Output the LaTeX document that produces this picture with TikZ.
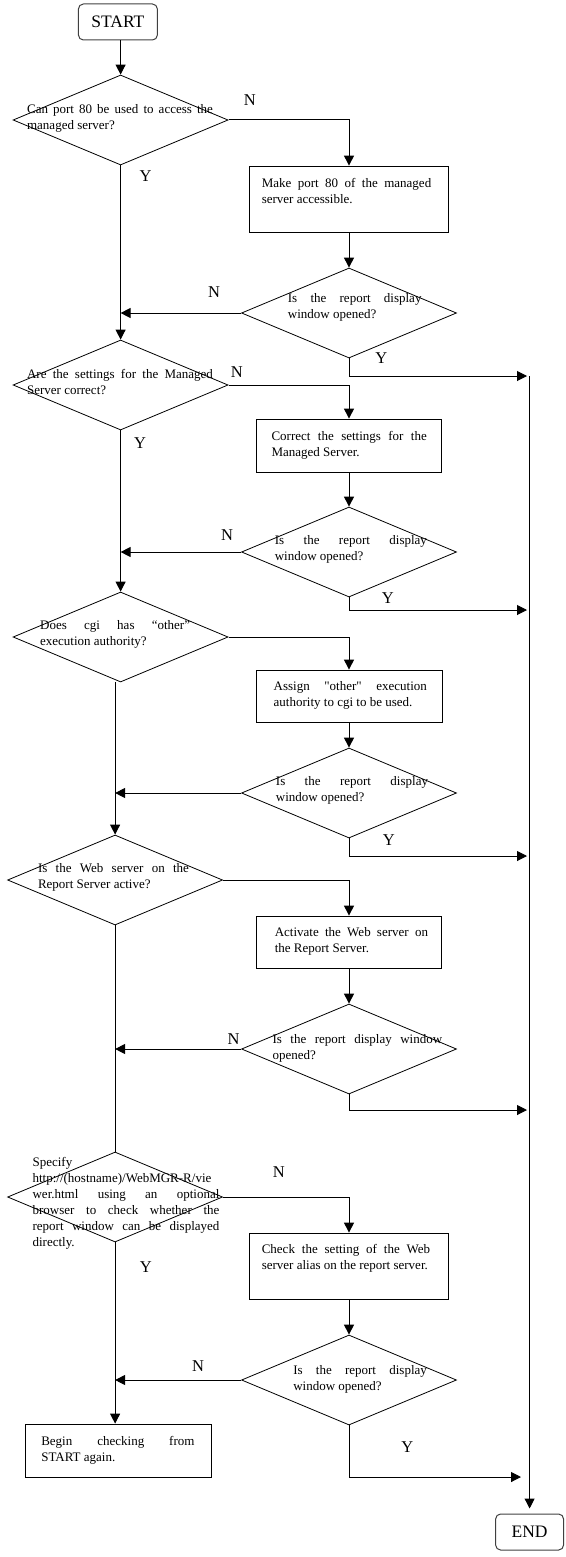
\documentclass[tikz,border=0pt]{standalone}
\usepackage{fontspec}
\setmainfont{Liberation Serif}
\usepackage{tikz}
\usetikzlibrary{shapes.geometric}
\usetikzlibrary{arrows.meta}
\tikzset{
    boxn/.style = {rectangle, draw=black, line width=0.8pt, inner sep=0pt},
    diam/.style = {diamond, draw=black, line width=0.8pt, inner sep=0pt, minimum width=215pt, minimum height=90pt},
    termn/.style = {rectangle, rounded corners=5pt, draw=black!75, line width=1pt, inner sep=0pt, font=\fontsize{17.5}{20}\selectfont},
    txt/.style = {inner sep=0pt, align=justify, font=\fontsize{13}{16}\selectfont},
    lab/.style = {inner sep=0pt, font=\fontsize{16.5}{18}\selectfont},
}

\begin{document}
\begin{tikzpicture}[x=1pt, y=-1pt]
\tikzset{
    edgea/.style = {-{Triangle[length=10pt,width=10pt]}, line width=1pt},
    edgen/.style = {-, line width=1pt},
}
\useasboundingbox (0,0) rectangle (565,1557);
\node[termn, minimum width=79pt, minimum height=36pt] at (117.9,22) (start) {START};
\node[termn, minimum width=68pt, minimum height=36pt] at (529.6,1532) (endn) {END};
%
\node[diam] at (120.6,120) (d1) {};
\node[diam] at (349,313) (d2) {};
\node[diam] at (120.6,385) (d3) {};
\node[diam] at (349,552) (d4) {};
\node[diam] at (120.6,637) (d5) {};
\node[diam] at (349,793) (d7) {};
\node[diam] at (115.1,880) (d6) {};
\node[diam] at (349,1049) (d8) {};
\node[diam] at (115.1,1197) (d9) {};
\node[diam] at (349,1380) (d10) {};
%
\node[txt, text width=185.8pt] at (120,118) (t1) {Can port 80 be used to access the\linebreak managed server?};
\node[txt, text width=133.6pt] at (354.7,307) (t2) {Is the report display\linebreak window opened?};
\node[txt, text width=185.8pt] at (120,382) (t3) {Are the settings for the Managed\linebreak Server correct?};
\node[txt, text width=152.1pt] at (350.9,549) (t4) {Is the report display\linebreak window opened?};
\node[txt, text width=149.9pt] at (115.1,634) (t5) {Does cgi has “other”\linebreak execution authority?};
\node[txt, text width=152.1pt] at (352,790) (t7) {Is the report display\linebreak window opened?};
\node[txt, text width=151pt] at (113.5,877) (t6) {Is the Web server on the\linebreak Report Server active?};
\node[txt, text width=169.5pt] at (357.4,1048) (t8) {Is the report display window\linebreak opened?};
\node[txt, text width=186.8pt] at (126,1203) (t9) {Specify\newline http://(hostname)/WebMGR-R/vie\linebreak wer.html using an optional\linebreak browser to check whether the\linebreak report window can be displayed\linebreak directly.};
\node[txt, text width=133.6pt] at (360.1,1379) (t10) {Is the report display\linebreak window opened?};
%
\node[boxn, minimum width=198.8pt, minimum height=66pt] at (349,199) (b1) {};
\node[boxn, minimum width=184.7pt, minimum height=53pt] at (349,445.5) (b2) {};
\node[boxn, minimum width=185.8pt, minimum height=52pt] at (349,696) (b3) {};
\node[boxn, minimum width=184.7pt, minimum height=52pt] at (349,942) (b4) {};
\node[boxn, minimum width=198.8pt, minimum height=66pt] at (349,1266) (b5) {};
\node[boxn, minimum width=186.8pt, minimum height=53pt] at (118.4,1450.5) (b6) {};
%
\node[txt, text width=169.5pt] at (346.5,191) (s1) {Make port 80 of the managed\linebreak server accessible.};
\node[txt, text width=155.3pt] at (349.2,445) (s2) {Correct the settings for the\linebreak Managed Server.};
\node[txt, text width=153.2pt] at (350.3,695) (s3) {Assign \textquotedbl other\textquotedbl\ execution\linebreak authority to cgi to be used.};
\node[txt, text width=153.2pt] at (351.4,941) (s4) {Activate the Web server on\linebreak the Report Server.};
\node[txt, text width=168.4pt] at (346,1258) (s5) {Check the setting of the Web\linebreak server alias on the report server.};
\node[txt, text width=153.2pt] at (117.9,1450) (s6) {Begin checking from\linebreak START again.};
%
\node[lab] at (249.8,100) (n1) {N};
\node[lab] at (145.6,176) (y1) {Y};
\node[lab] at (214,292) (n2) {N};
\node[lab] at (381.3,358) (y2) {Y};
\node[lab] at (236.8,372) (n3) {N};
\node[lab] at (140.1,443) (y3) {Y};
\node[lab] at (227,535) (n4) {N};
\node[lab] at (387.8,598) (y4) {Y};
\node[lab] at (388.9,840) (y7) {Y};
\node[lab] at (233.6,1039) (n8) {N};
\node[lab] at (278.8,1172) (n9) {N};
\node[lab] at (145.9,1267) (y9) {Y};
\node[lab] at (198,1366) (n10) {N};
\node[lab] at (407.4,1447) (y10) {Y};
%
\coordinate (rtop) at (529.6,376);
\coordinate (r1) at (527,376);
\coordinate (r2) at (527,610);
\coordinate (r3) at (527,856);
\coordinate (r4) at (527,1110);
\coordinate (r5) at (521,1477);
%
\draw[edgea] (start.south -| d1.north) -- (d1.north);
\draw[edgea] (d1.east) -| (b1.north);
\draw[edgea] (b1) -- (d2);
\draw[edgea] (d2.west) -- (d2.west -| d1.south);
\draw[edgea] (d2.south) |- (r1);
\draw[edgea] (d1) -- (d3);
%
\draw[edgea] (d3.east) -| (b2.north);
\draw[edgea] (b2) -- (d4);
\draw[edgea] (d4.west) -- (d4.west -| d3.south);
\draw[edgea] (d4.south) |- (r2);
\draw[edgea] (d3) -- (d5);
%
\draw[edgea] (d5.east) -| (b3.north);
\draw[edgea] (b3) -- (d7);
\draw[edgea] (d7.west) -- (d7.west -| d6.north);
\draw[edgea] (d7.south) |- (r3);
\draw[edgea] (d5.south -| d6.north) -- (d6.north);
%
\draw[edgea] (d6.east) -| (b4.north);
\draw[edgea] (b4) -- (d8);
\draw[edgea] (d8.west) -- (d8.west -| d6.south);
\draw[edgea] (d8.south) |- (r4);
\draw[edgen] (d6.south) -- (d9.north);
%
\draw[edgea] (d9.east) -| (b5.north);
\draw[edgea] (b5) -- (d10);
\draw[edgea] (d10.west) -- (d10.west -| d9.south);
\draw[edgea] (d10.south) |- (r5);
\draw[edgea] (d9.south) -- (d9.south |- b6.north);
%
\draw[edgea, shorten >=5pt] (rtop) -- (endn.north);
\end{tikzpicture}
\end{document}
